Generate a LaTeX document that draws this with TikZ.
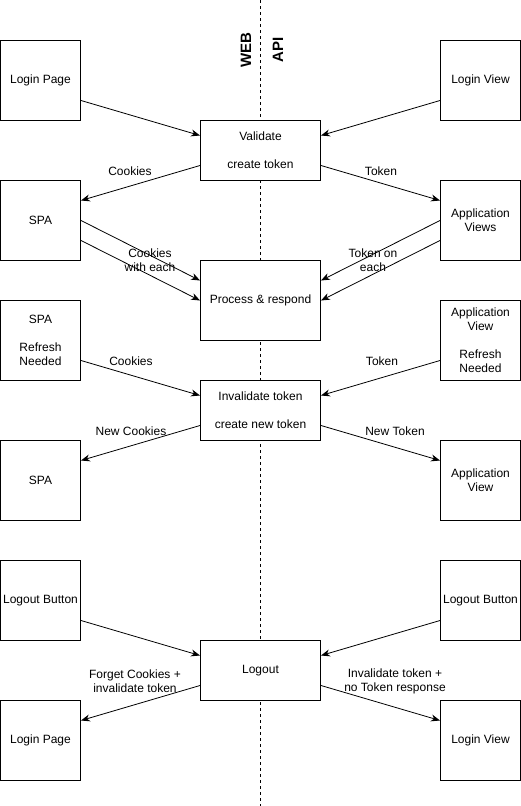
\documentclass[tikz,border=0pt]{standalone}
\usepackage{fontspec}
\setmainfont{Liberation Sans}
\usetikzlibrary{arrows.meta}

\begin{document}
\begin{tikzpicture}[x=1pt, y=-1pt,
  box/.style={draw, fill=white, line width=1pt, minimum width=80pt, minimum height=80pt,
    inner sep=0pt, align=center, font=\fontsize{12}{14}\selectfont},
  op/.style={box, minimum width=120pt, minimum height=60pt},
  lbl/.style={align=center, inner sep=0pt, font=\fontsize{12}{14}\selectfont},
  side/.style={rotate=90, inner sep=0pt, font=\fontsize{15}{18}\selectfont\bfseries},
  flow/.style={-{Stealth[length=9pt,width=7pt]}, line width=0.8pt}]
  \useasboundingbox (0,0) rectangle (521,806);

  % web / api divider
  \draw[line width=0.8pt, dash pattern=on 3pt off 3pt] (260,0) -- (260,806);
  \node[side] (web) at (246,50) {WEB};
  \node[side] (api) at (278,50) {API};

  % web side
  \node[box] (lpage) at (40.5,80.5) {Login Page};
  \node[box] (spa) at (40.5,220.5) {SPA};
  \node[box] (sparef) at (40.5,340.5) {SPA\\[14pt]Refresh\\Needed};
  \node[box] (spanew) at (40.5,480.5) {SPA};
  \node[box] (lbtn) at (40.5,600.5) {Logout Button};
  \node[box] (lpage2) at (40.5,740.5) {Login Page};

  % api side
  \node[box] (lview) at (480.5,80.5) {Login View};
  \node[box] (aviews) at (480.5,220.5) {Application\\Views};
  \node[box] (avref) at (480.5,340.5) {Application\\View\\[14pt]Refresh\\Needed};
  \node[box] (avnew) at (480.5,480.5) {Application\\View};
  \node[box] (lbtn2) at (480.5,600.5) {Logout Button};
  \node[box] (lview2) at (480.5,740.5) {Login View};

  % server steps
  \node[op] (valid) at (260.5,150.5) {Validate\\[14pt]create token};
  \node[op, minimum height=80pt] (proc) at (260.5,300.5) {Process \& respond};
  \node[op] (inval) at (260.5,410.5) {Invalidate token\\[14pt]create new token};
  \node[op] (logout) at (260.5,670.5) {Logout};

  % login
  \draw[flow] ([yshift=-20pt]lpage.east) -- ([yshift=15pt]valid.west);
  \draw[flow] ([yshift=-20pt]lview.west) -- ([yshift=15pt]valid.east);
  \draw[flow] ([yshift=-15pt]valid.west) -- ([yshift=20pt]spa.east);
  \draw[flow] ([yshift=-15pt]valid.east) -- ([yshift=20pt]aviews.west);
  \node[lbl] (ck1) at (130,171) {Cookies};
  \node[lbl] (tk1) at (381,171) {Token};

  % requests
  \draw[flow] (spa.east) -- ([yshift=20pt]proc.west);
  \draw[flow] ([yshift=-20pt]spa.east) -- (proc.west);
  \draw[flow] (aviews.west) -- ([yshift=20pt]proc.east);
  \draw[flow] ([yshift=-20pt]aviews.west) -- (proc.east);
  \node[lbl] (ck2) at (150,260) {Cookies\\with each};
  \node[lbl] (tk2) at (373,260) {Token on\\each};

  % refresh
  \draw[flow] ([yshift=-20pt]sparef.east) -- ([yshift=15pt]inval.west);
  \draw[flow] ([yshift=-20pt]avref.west) -- ([yshift=15pt]inval.east);
  \draw[flow] ([yshift=-15pt]inval.west) -- ([yshift=20pt]spanew.east);
  \draw[flow] ([yshift=-15pt]inval.east) -- ([yshift=20pt]avnew.west);
  \node[lbl] (ck3) at (131,361) {Cookies};
  \node[lbl] (tk3) at (382,361) {Token};
  \node[lbl] (ck4) at (131,431) {New Cookies};
  \node[lbl] (tk4) at (395,431) {New Token};

  % logout
  \draw[flow] ([yshift=-20pt]lbtn.east) -- ([yshift=15pt]logout.west);
  \draw[flow] ([yshift=-20pt]lbtn2.west) -- ([yshift=15pt]logout.east);
  \draw[flow] ([yshift=-15pt]logout.west) -- ([yshift=20pt]lpage2.east);
  \draw[flow] ([yshift=-15pt]logout.east) -- ([yshift=20pt]lview2.west);
  \node[lbl] (ck5) at (135,681) {Forget Cookies +\\invalidate token};
  \node[lbl] (tk5) at (395,681) {Invalidate token +\\no Token response};
\end{tikzpicture}
\end{document}
